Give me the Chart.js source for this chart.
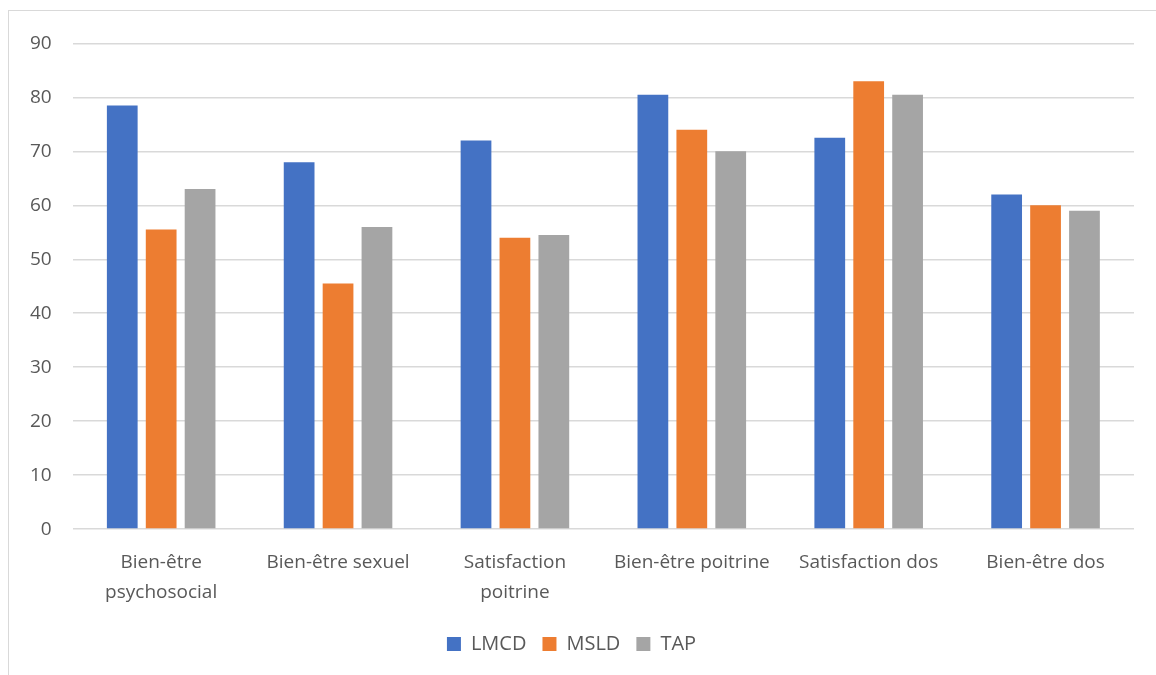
<!DOCTYPE html>
<html lang="fr">
<head>
    <meta charset="UTF-8">
    <title>Bien-être et satisfaction</title>
    <script src="https://cdn.jsdelivr.net/npm/chart.js"></script>
    <style>
        html, body { margin: 0; padding: 0; background: #fff; }
        /* cadre gris léger autour du graphique */
        #chart-container {
            position: absolute;
            left: 8px;
            top: 10px;
            width: 1160px;
            height: 680px;
            border: 1px solid #d9d9d9;
            box-sizing: border-box;
        }
        #grafico { width: 100% !important; height: 100% !important; }
    </style>
</head>
<body>
    <div id="chart-container">
        <canvas id="grafico"></canvas>
    </div>

    <script>
        const categorias = [
            ['Bien-être', 'psychosocial'],
            'Bien-être sexuel',
            ['Satisfaction', 'poitrine'],
            'Bien-être poitrine',
            'Satisfaction dos',
            'Bien-être dos'
        ];
        const lmcd = [78.5, 68, 72, 80.5, 72.5, 62];
        const msld = [55.5, 45.5, 54, 74, 83, 60];
        const tap  = [63, 56, 54.5, 70, 80.5, 59];

        Chart.defaults.font.family = "'Open Sans', 'Liberation Sans', sans-serif";
        Chart.defaults.color = '#595959';

        const ctx = document.getElementById('grafico').getContext('2d');
        new Chart(ctx, {
            type: 'bar',
            data: {
                labels: categorias,
                datasets: [
                    { label: 'LMCD', data: lmcd, backgroundColor: '#4472c4' },
                    { label: 'MSLD', data: msld, backgroundColor: '#ed7d31' },
                    { label: 'TAP', data: tap, backgroundColor: '#a5a5a5' }
                ]
            },
            options: {
                responsive: true,
                maintainAspectRatio: false,
                animation: false,
                categoryPercentage: 0.66,
                barPercentage: 0.79,
                layout: { padding: { left: 0, right: 33, top: 7, bottom: 25 } },
                plugins: {
                    legend: {
                        position: 'bottom',
                        labels: { boxWidth: 14, boxHeight: 14, padding: 16, font: { size: 20 } }
                    },
                    tooltip: { enabled: false }
                },
                scales: {
                    x: {
                        grid: { display: false },
                        border: { display: false },
                        ticks: { font: { size: 19, lineHeight: 1.55 }, maxRotation: 0, padding: 11 }
                    },
                    y: {
                        min: 0,
                        max: 90,
                        ticks: { stepSize: 10, font: { size: 19 }, padding: 21 },
                        grid: { color: '#d9d9d9', lineWidth: 1.5, drawTicks: false },
                        border: { display: false }
                    }
                }
            }
        });
    </script>
</body>
</html>
